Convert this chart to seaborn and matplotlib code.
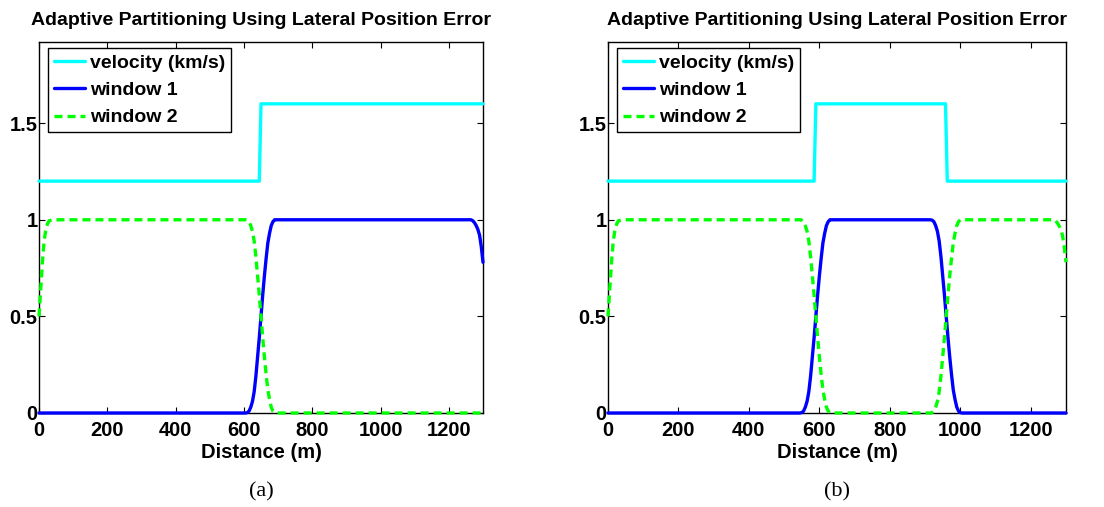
import matplotlib
matplotlib.use("Agg")
import matplotlib.pyplot as plt
import seaborn as sns
import pandas as pd

sns.set_theme(style="white")
plt.rcParams['font.family'] = ['Liberation Sans', 'DejaVu Sans']
plt.rcParams['text.color'] = 'black'
plt.rcParams['xtick.color'] = 'black'
plt.rcParams['ytick.color'] = 'black'
plt.rcParams['axes.labelcolor'] = 'black'

# ---------------- data ----------------
title_text = "Adaptive Partitioning Using Lateral Position Error"
xlabel_text = "Distance (m)"
series_names = ["velocity (km/s)", "window 1", "window 2"]
captions = ["(a)", "(b)"]
x_ticks = [0, 200, 400, 600, 800, 1000, 1200]
y_ticks = [0, 0.5, 1, 1.5]
y_ticklabels = ["0", "0.5", "1", "1.5"]

# panel (a)
vel_a_x = [0, 645, 650, 1300]
vel_a_y = [1.2, 1.2, 1.6, 1.6]

win1_a_x = [0, 605, 610, 615, 620, 625, 630, 635, 640, 645, 650, 655, 660, 665,
            670, 675, 680, 685, 690, 695, 1265, 1270, 1275, 1280, 1285, 1290, 1295, 1300]
win1_a_y = [0, 0, 0.002, 0.01, 0.03, 0.06, 0.11, 0.19, 0.29, 0.39, 0.5, 0.61, 0.71, 0.8,
            0.88, 0.93, 0.97, 0.99, 1.0, 1.0, 1.0, 0.995, 0.985, 0.97, 0.95, 0.92, 0.86, 0.78]

win2_a_x = [0, 5, 10, 15, 20, 25, 30, 40, 605, 610, 615, 620, 625, 630, 635, 640, 645,
            650, 655, 660, 665, 670, 675, 680, 685, 690, 695, 1300]
win2_a_y = [0.5, 0.64, 0.78, 0.89, 0.95, 0.98, 0.995, 1.0, 1.0, 0.998, 0.99, 0.97, 0.94,
            0.89, 0.81, 0.71, 0.61, 0.5, 0.39, 0.29, 0.2, 0.12, 0.07, 0.03, 0.01, 0.002, 0, 0]

# panel (b)
vel_b_x = [0, 585, 590, 958, 963, 1300]
vel_b_y = [1.2, 1.2, 1.6, 1.6, 1.2, 1.2]

win1_b_x = [0, 545, 550, 555, 560, 565, 570, 575, 580, 585, 590, 595, 600, 605, 610,
            615, 620, 625, 630, 635,
            915, 920, 925, 930, 935, 940, 945, 950, 955, 960, 965, 970, 975, 980,
            985, 990, 995, 1000, 1005, 1300]
win1_b_y = [0, 0, 0.002, 0.01, 0.03, 0.06, 0.11, 0.19, 0.29, 0.39, 0.5, 0.61, 0.71, 0.8,
            0.88, 0.93, 0.97, 0.99, 1.0, 1.0,
            1.0, 0.998, 0.99, 0.97, 0.94, 0.89, 0.81, 0.71, 0.61, 0.5, 0.39, 0.29, 0.2,
            0.12, 0.07, 0.03, 0.01, 0.002, 0, 0]

win2_b_x = [0, 5, 10, 15, 20, 25, 30, 40, 545, 550, 555, 560, 565, 570, 575, 580, 585,
            590, 595, 600, 605, 610, 615, 620, 625, 630, 635,
            915, 920, 925, 930, 935, 940, 945, 950, 955, 960, 965, 970, 975, 980,
            985, 990, 995, 1000, 1005,
            1265, 1270, 1275, 1280, 1285, 1290, 1295, 1300]
win2_b_y = [0.5, 0.64, 0.78, 0.89, 0.95, 0.98, 0.995, 1.0, 1.0, 0.998, 0.99, 0.97, 0.94,
            0.89, 0.81, 0.71, 0.61, 0.5, 0.39, 0.29, 0.2, 0.12, 0.07, 0.03, 0.01, 0.002, 0,
            0, 0.002, 0.01, 0.03, 0.06, 0.11, 0.19, 0.29, 0.39, 0.5, 0.61, 0.71, 0.8,
            0.88, 0.93, 0.97, 0.99, 1.0, 1.0,
            1.0, 0.995, 0.985, 0.97, 0.95, 0.92, 0.86, 0.78]

panels = [
    (vel_a_x, vel_a_y, win1_a_x, win1_a_y, win2_a_x, win2_a_y),
    (vel_b_x, vel_b_y, win1_b_x, win1_b_y, win2_b_x, win2_b_y),
]

# ---------------- styling ----------------
colors = ["#00ffff", "#0000ff", "#00ff00"]
styles = ["-", "-", (0, (2.4, 1.5))]
lw = 2.4
fs = 14.5
leg_fs = 14
title_fs = 14

fig = plt.figure(figsize=(11.04, 5.07), dpi=100)
axes_rects = [
    [39 / 1104, (507 - 413) / 507, 444 / 1104, 371 / 507],
    [608 / 1104, (507 - 413) / 507, 458 / 1104, 371 / 507],
]

for rect, panel, cap in zip(axes_rects, panels, captions):
    ax = fig.add_axes(rect)
    vx, vy, w1x, w1y, w2x, w2y = panel
    data = [
        pd.DataFrame({"x": vx, "y": vy}),
        pd.DataFrame({"x": w1x, "y": w1y}),
        pd.DataFrame({"x": w2x, "y": w2y}),
    ]
    for df, c, ls, name in zip(data, colors, styles, series_names):
        sns.lineplot(data=df, x="x", y="y", ax=ax, color=c, linestyle=ls,
                     linewidth=lw, estimator=None, sort=False, label=name,
                     clip_on=False, zorder=3)
    ax.set_xlim(0, 1300)
    ax.set_ylim(0, 1.92)
    ax.set_xticks(x_ticks)
    ax.set_xticklabels([str(t) for t in x_ticks], fontsize=fs, fontweight="bold")
    ax.set_yticks(y_ticks)
    ax.set_yticklabels(y_ticklabels, fontsize=fs, fontweight="bold")
    ax.tick_params(direction="in", length=4, width=0.8, color="black",
                   top=True, right=True, bottom=True, left=True)
    ax.tick_params(axis="x", pad=6)
    ax.tick_params(axis="y", pad=1)
    for sp in ax.spines.values():
        sp.set_color("black")
        sp.set_linewidth(1.0)
        sp.set_zorder(2)
    ax.set_xlabel(xlabel_text, fontsize=fs, fontweight="bold", labelpad=2)
    ax.set_ylabel("")
    ax.set_title(title_text, fontsize=title_fs, fontweight="bold", pad=12)
    leg = ax.legend(loc="upper left", bbox_to_anchor=(0.02, 0.983),
                    prop={"weight": "bold", "size": leg_fs}, frameon=True, fancybox=False,
                    handlelength=1.6, handletextpad=0.25, borderpad=0.3,
                    labelspacing=0.5, borderaxespad=0)
    leg.get_frame().set_edgecolor("black")
    leg.get_frame().set_linewidth(1.0)
    leg.get_frame().set_alpha(1)
    cx = rect[0] + rect[2] / 2
    fig.text(cx, 1 - 492 / 507, cap, ha="center", va="center", fontsize=16,
             family=["Liberation Serif", "DejaVu Serif"])

fig.savefig("out.png", dpi=100)
